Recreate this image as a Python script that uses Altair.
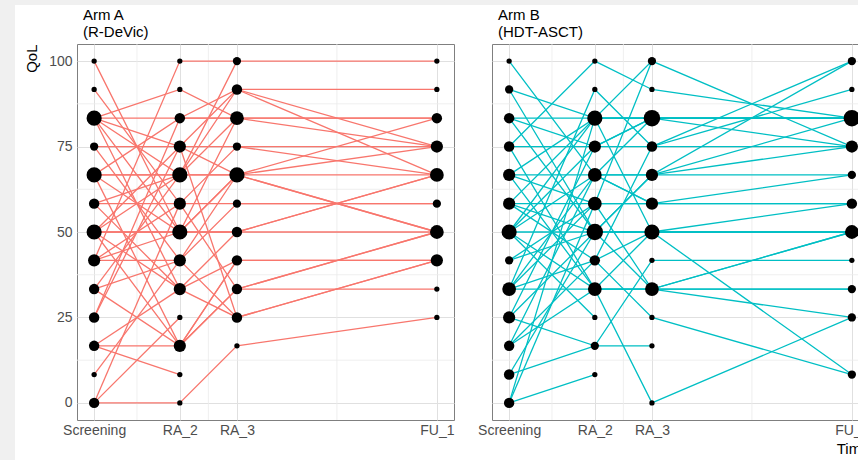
import altair as alt
import pandas as pd

# ---- axis / grid values ----
time_labels = ["Screening", "RA_2", "RA_3", "FU_1"]
time_months = [0, 3, 5, 12]
minor_x = [1.5, 4, 8.5]
major_y = [0, 25, 50, 75, 100]
minor_y = [12.5, 37.5, 62.5, 87.5]

# ---- Arm A (R-DeVic): QoL per patient at each visit (None = missing) ----
a_scr = [100, 91.7, 83.3, 83.3, 83.3, 83.3, 83.3, 83.3, 75, 75,
         66.7, 66.7, 66.7, 66.7, 66.7, 66.7, 58.3, 58.3, 58.3, 50,
         50, 50, 50, 50, 50, 41.7, 41.7, 41.7, 41.7, 33.3,
         33.3, 33.3, 25, 25, 25, 16.7, 16.7, 16.7, 8.3, 0,
         0, 0]
a_ra2 = [50, 58.3, 91.7, 83.3, 66.7, 50, 75, 33.3, 75, 41.7,
         66.7, 83.3, 50, 16.7, 66.7, None, 58.3, 33.3, 66.7, 50,
         66.7, 16.7, 75, 33.3, 50, 100, 58.3, 50, 41.7, 41.7,
         66.7, 16.7, 83.3, None, 75, 16.7, 33.3, 8.3, 41.7, 0,
         25, 58.3]
a_ra3 = [66.7, 75, 83.3, 83.3, 91.7, 66.7, 66.7, 50, 75, 66.7,
         66.7, 83.3, 50, 33.3, 100, None, 58.3, 41.7, 83.3, 50,
         66.7, 41.7, 91.7, 25, 83.3, 100, 33.3, None, 58.3, 25,
         None, 41.7, 91.7, None, 25, 33.3, None, None, None, 16.7,
         None, None]
a_fu1 = [83.3, 75, 75, 83.3, 75, 50, None, 50, 66.7, 50,
         75, 83.3, 66.7, 50, None, None, 58.3, 41.7, None, 66.7,
         66.7, 41.7, 66.7, 41.7, None, 100, 50, None, 58.3, 41.7,
         None, None, 91.7, None, None, 33.3, None, None, None, 25,
         None, None]

# ---- Arm B (HDT-ASCT) ----
b_scr = [100, 91.7, 91.7, 83.3, 83.3, 83.3, 75, 75, 75, 66.7,
         66.7, 66.7, 66.7, 58.3, 58.3, 58.3, 58.3, 50, 50, 50,
         50, 50, 50, 41.7, 41.7, 33.3, 33.3, 33.3, 33.3, 33.3,
         25, 25, 25, 25, 16.7, 16.7, 16.7, 8.3, 8.3, 8.3,
         0, 0, 0]
b_ra2 = [66.7, 83.3, 50, 83.3, 75, 50, 75, 100, 33.3, 66.7,
         83.3, 33.3, 58.3, 58.3, 83.3, 41.7, 50, 50, 83.3, 33.3,
         66.7, 75, 25, 58.3, 50, 33.3, 66.7, 91.7, 58.3, 41.7,
         75, 50, 16.7, None, 33.3, 66.7, 41.7, 50, 16.7, None,
         8.3, 83.3, 58.3]
b_ra3 = [66.7, 83.3, 33.3, 100, 83.3, 50, 75, 91.7, 33.3, 66.7,
         83.3, 50, 100, 58.3, 83.3, 75, 50, 50, 83.3, 33.3,
         58.3, None, None, 58.3, 66.7, 33.3, 83.3, 75, 33.3, 50,
         83.3, 66.7, 41.7, None, 0, 58.3, 25, None, 16.7, None,
         None, 50, None]
b_fu1 = [83.3, 83.3, 50, 75, 83.3, 50, 75, 83.3, 33.3, 100,
         75, 50, None, 58.3, 83.3, 100, 8.3, 50, 83.3, 25,
         58.3, None, None, 66.7, 75, 33.3, 83.3, 91.7, 50, 58.3,
         None, 66.7, 41.7, None, 25, None, 8.3, None, None, None,
         None, None, None]


def long_table(visits):
    rows = []
    for pid in range(len(visits[0])):
        for t, series in zip(time_months, visits):
            v = series[pid]
            if v is not None:
                rows.append({"patient": pid, "time": t, "qol": v})
    return pd.DataFrame(rows)


df_a = long_table([a_scr, a_ra2, a_ra3, a_fu1])
df_b = long_table([b_scr, b_ra2, b_ra3, b_fu1])

FONT = "Liberation Sans"
label_expr = "{" + ",".join(f"'{m}':'{l}'" for m, l in zip(time_months, time_labels)) + "}[datum.value]"

x_scale = alt.Scale(domain=[-0.6, 12.6], nice=False, zero=False)
y_scale = alt.Scale(domain=[-5, 105], nice=False, zero=False)


def panel(df, color, title_lines, first):
    x_axis = alt.Axis(
        values=time_months, labelExpr=label_expr, ticks=False, domain=False,
        grid=True, gridColor="#e0e0e0", gridWidth=1,
        labelFontSize=14, labelColor="#4d4d4d", labelFont=FONT, labelPadding=3,
        labelFlush=False, labelOverlap=False,
        title=None if first else "Time", titleAnchor="end", titleAlign="right",
        titleFontSize=15, titleFontWeight="normal", titleColor="black",
        titleFont=FONT, titlePadding=4,
    )
    if first:
        y_axis = alt.Axis(
            values=major_y, ticks=False, domain=False, grid=True,
            gridColor="#e0e0e0", gridWidth=1,
            labelFontSize=14, labelColor="#4d4d4d", labelFont=FONT, labelPadding=5,
            title="QoL", titleAnchor="end", titleAlign="right", titleFontSize=15,
            titleFontWeight="normal", titleColor="black", titleFont=FONT,
            titlePadding=9,
        )
    else:
        y_axis = alt.Axis(
            values=major_y, ticks=False, domain=False, grid=True,
            gridColor="#e0e0e0", gridWidth=1, labels=False, title=None,
        )

    minor_v = alt.Chart(pd.DataFrame({"time": minor_x})).mark_rule(
        color="#ebebeb", strokeWidth=0.8
    ).encode(x=alt.X("time:Q", scale=x_scale, axis=x_axis))
    minor_h = alt.Chart(pd.DataFrame({"qol": minor_y})).mark_rule(
        color="#ebebeb", strokeWidth=0.8
    ).encode(y=alt.Y("qol:Q", scale=y_scale, axis=y_axis))

    lines = alt.Chart(df).mark_line(color=color, strokeWidth=1.3).encode(
        x=alt.X("time:Q", scale=x_scale, axis=x_axis),
        y=alt.Y("qol:Q", scale=y_scale, axis=y_axis),
        detail="patient:N",
        order="time:Q",
    )
    points = alt.Chart(df).transform_aggregate(
        n="count()", groupby=["time", "qol"]
    ).mark_circle(color="black", opacity=1).encode(
        x=alt.X("time:Q", scale=x_scale, axis=x_axis),
        y=alt.Y("qol:Q", scale=y_scale, axis=y_axis),
        size=alt.Size("n:Q", scale=alt.Scale(domain=[1, 7], range=[28, 270]), legend=None),
    )
    return alt.layer(minor_v, minor_h, lines, points).properties(
        width=377, height=376,
        title=alt.TitleParams(
            text=title_lines, anchor="start", frame="group", fontSize=15,
            fontWeight="normal", font=FONT, color="black", offset=4, dx=6,
            lineHeight=17,
        ),
    )


# white page card behind both panels (the reference shows a light grey margin at top/left)
card = alt.Chart(pd.DataFrame({"card": [0]})).mark_rect(color="white").encode(
    x=alt.value(-61), x2=alt.value(800), y=alt.value(-39), y2=alt.value(430)
).properties(width=1, height=376)

panels = alt.hconcat(
    panel(df_a, "#F8766D", ["Arm A", "(R-DeVic)"], True),
    panel(df_b, "#00BFC4", ["Arm B", "(HDT-ASCT)"], False),
    spacing=38, bounds="flush",
)

chart = alt.hconcat(card, panels, spacing=-1, bounds="flush").properties(
    autosize=alt.AutoSizeParams(type="none"),
    padding={"left": 76, "top": 44, "right": 782, "bottom": 416},
    background="#f0f0f0",
).configure_view(stroke="#7f7f7f", strokeWidth=1)

chart.save("out.html", embed_options={"renderer": "svg", "actions": False})
